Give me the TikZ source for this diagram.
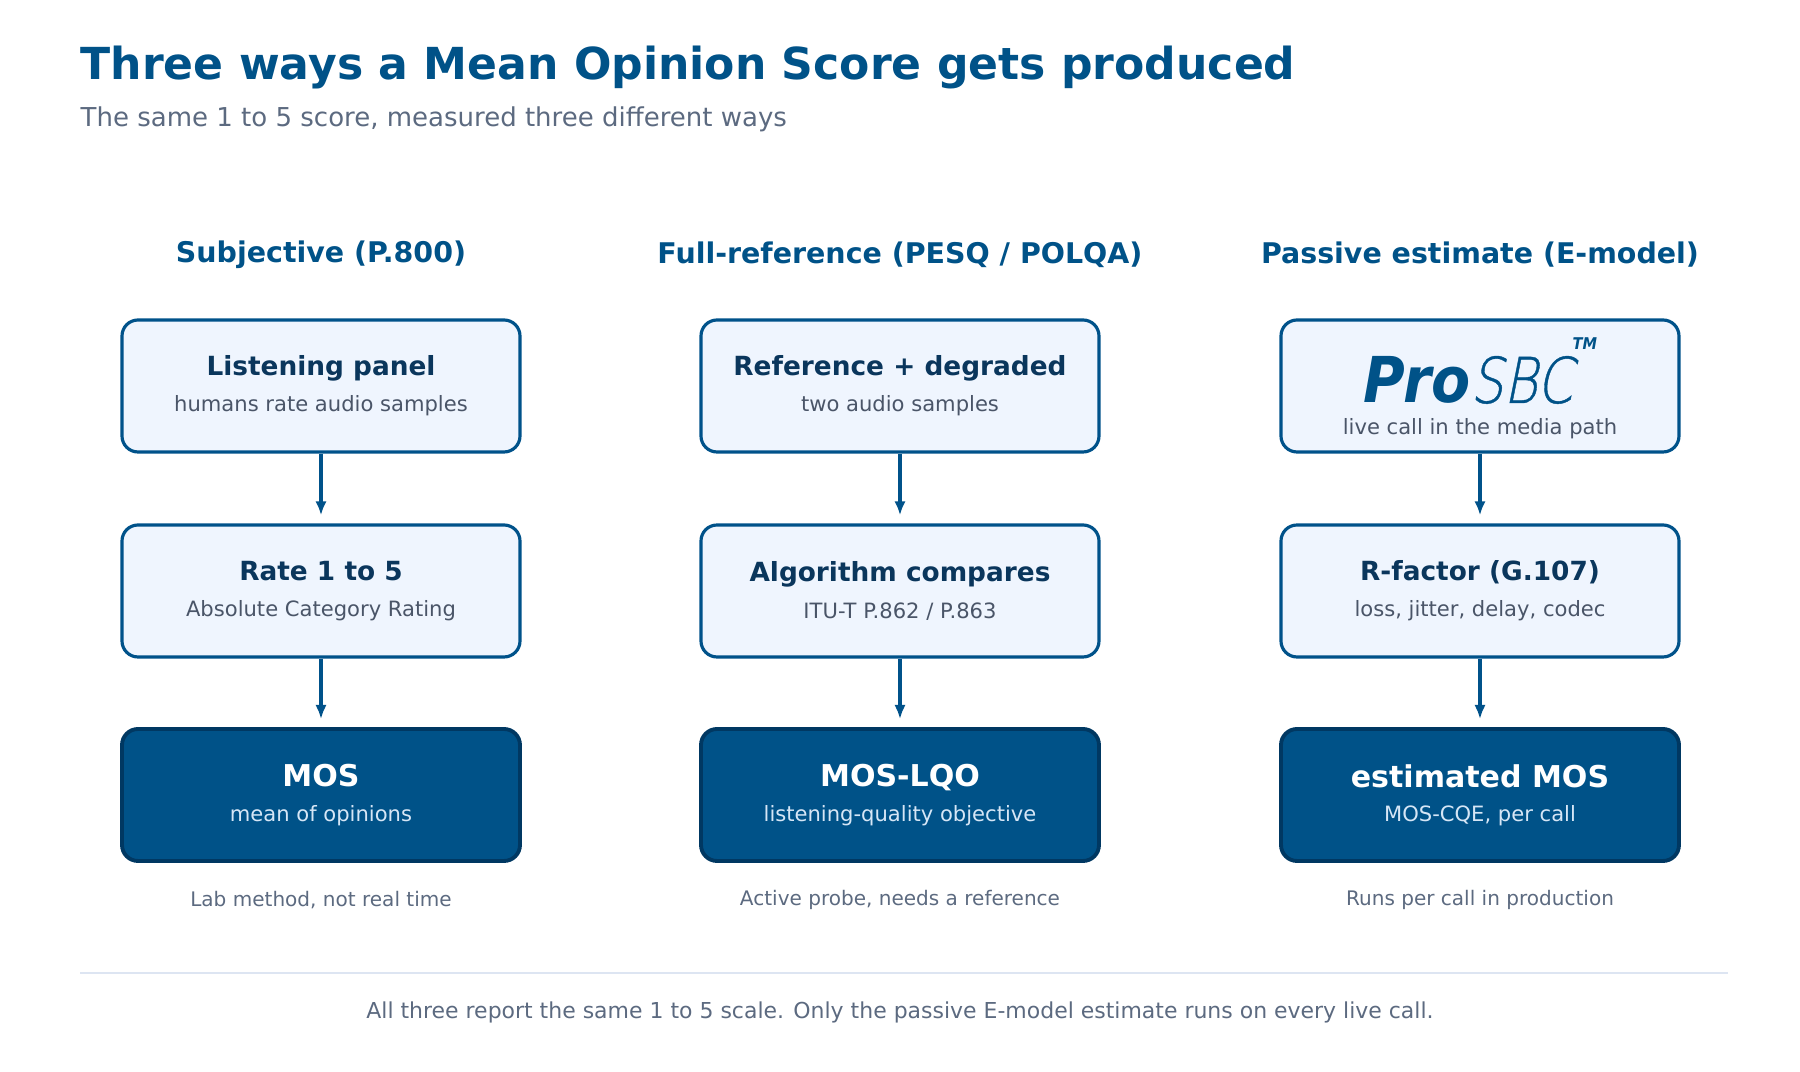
\documentclass[tikz,border=0pt]{standalone}
\usepackage{fontspec}
\setmainfont{DejaVu Sans}
\newfontfamily\logobold{DejaVu Sans Condensed}[UprightFont=* Bold Oblique]
\newfontfamily\logothin{DejaVu Sans ExtraLight}[FakeSlant=0.2,FakeStretch=0.82,FakeBold=0.6]
\usetikzlibrary{positioning, arrows.meta}
\definecolor{TitleColor}{RGB}{0,82,136}
\definecolor{BoxFill}{RGB}{239,245,254}
\definecolor{BoxDraw}{RGB}{0,82,138}
\definecolor{DarkDraw}{RGB}{0,56,98}
\definecolor{HeadText}{RGB}{10,54,92}
\definecolor{SubText}{RGB}{74,85,104}
\definecolor{NoteText}{RGB}{92,106,128}
\definecolor{LightSub}{RGB}{214,230,246}
\definecolor{RuleColor}{RGB}{221,229,242}
\tikzset{
  stage/.style={rectangle, rounded corners=0.16cm, draw=BoxDraw, fill=BoxFill, line width=0.9pt, minimum width=3.98cm, minimum height=1.32cm, align=center, inner sep=0pt},
  result/.style={stage, fill=TitleColor, draw=DarkDraw, line width=1.1pt},
  colhead/.style={font=\fontsize{8.1}{10}\selectfont\bfseries, text=TitleColor},
  note/.style={font=\fontsize{5.7}{7}\selectfont, text=NoteText},
  flow/.style={-{Latex[length=4pt,width=3.2pt]}, line width=1pt, BoxDraw, shorten >=0.08cm}
}
\newcommand{\stagetext}[2]{\raisebox{-0.04cm}{\fontsize{7.5}{9}\selectfont\bfseries\color{HeadText}#1}\\[-0.02cm]{\fontsize{6}{7}\selectfont\color{SubText}#2}}
\newcommand{\resulttext}[2]{\raisebox{-0.04cm}{\fontsize{8.55}{10}\selectfont\bfseries\color{white}#1}\\[-0.04cm]{\fontsize{6}{7}\selectfont\color{LightSub}#2}}
\begin{document}
\begin{tikzpicture}[x=1cm,y=1cm]
\useasboundingbox (0,0) rectangle (18,-10.72);

% Title
\node[anchor=base west, font=\fontsize{12.55}{14}\selectfont\bfseries, text=TitleColor, inner sep=0pt] (title) at (0.8,-0.8) {Three ways a Mean Opinion Score gets produced};
\node[anchor=base west, font=\fontsize{7.4}{9}\selectfont, text=NoteText, inner sep=0pt] (subtitle) at (0.8,-1.27) {The same 1 to 5 score, measured three different ways};

% Column heads
\node[colhead] (head1) at (3.21,-2.55) {Subjective (P.800)};
\node[colhead] (head2) at (9.0,-2.55) {Full-reference (PESQ / POLQA)};
\node[colhead] (head3) at (14.8,-2.55) {Passive estimate (E-model)};

% Subjective
\node[stage] (panel) at (3.21,-3.86) {\stagetext{Listening panel}{humans rate audio samples}};
\node[stage] (rate) at (3.21,-5.91) {\stagetext{Rate 1 to 5}{Absolute Category Rating}};
\node[result] (mos) at (3.21,-7.95) {\resulttext{MOS}{mean of opinions}};
\node[note] (note1) at (3.21,-9.0) {Lab method, not real time};

% Full reference
\node[stage] (refdeg) at (9.0,-3.86) {\stagetext{Reference + degraded}{two audio samples}};
\node[stage] (algo) at (9.0,-5.91) {\stagetext{Algorithm compares}{ITU-T P.862 / P.863}};
\node[result] (lqo) at (9.0,-7.95) {\resulttext{MOS-LQO}{listening-quality objective}};
\node[note] (note2) at (9.0,-9.0) {Active probe, needs a reference};

% Passive estimate
\node[stage] (prosbc) at (14.8,-3.86) {};
\node[anchor=base, inner sep=0pt, text=TitleColor] (logo) at (14.68,-4.03) {{\logobold\fontsize{18}{20}\selectfont Pro}{\logothin\fontsize{18}{20}\selectfont SBC}};
\node[anchor=base west, inner sep=0pt, text=TitleColor, font=\logobold\fontsize{4.6}{5}\selectfont] (tm) at (15.72,-3.5) {TM};
\node[anchor=base, inner sep=0pt, font=\fontsize{6}{7}\selectfont, text=SubText] (live) at (14.8,-4.35) {live call in the media path};
\node[stage] (rfactor) at (14.8,-5.91) {\stagetext{R-factor (G.107)}{loss, jitter, delay, codec}};
\node[result] (emos) at (14.8,-7.95) {\resulttext{estimated MOS}{MOS-CQE, per call}};
\node[note] (note3) at (14.8,-9.0) {Runs per call in production};

% Arrows
\foreach \a/\b in {panel/rate, rate/mos, refdeg/algo, algo/lqo, prosbc/rfactor, rfactor/emos}
  \draw[flow] (\a.south) -- (\b.north);

% Footer
\coordinate (ruleL) at (0.8,-9.73);
\coordinate (ruleR) at (17.28,-9.73);
\draw[RuleColor, line width=0.6pt] (ruleL) -- (ruleR);
\node[font=\fontsize{6.25}{8}\selectfont, text=NoteText] (caption) at (9.0,-10.12) {All three report the same 1 to 5 scale. Only the passive E-model estimate runs on every live call.};
\end{tikzpicture}
\end{document}
